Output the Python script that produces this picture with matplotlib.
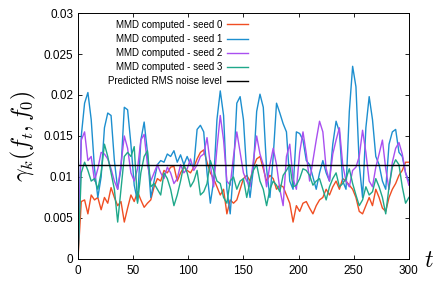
import numpy as np
import matplotlib
matplotlib.use('Agg')
import matplotlib.pyplot as plt

t = np.arange(0, 301, 3)

seed0 = [0.0, 0.007, 0.0072, 0.0055, 0.0078, 0.0072, 0.0075, 0.006, 0.0075, 0.0068,
         0.0087, 0.0075, 0.0065, 0.007, 0.0045, 0.0062, 0.0078, 0.007, 0.0082, 0.0072,
         0.0063, 0.0068, 0.0072, 0.0088, 0.0098, 0.0095, 0.0108, 0.0105, 0.0112, 0.0113,
         0.0095, 0.0105, 0.0112, 0.0108, 0.0105, 0.0112, 0.0122, 0.013, 0.0133, 0.0118,
         0.0105, 0.0098, 0.0088, 0.0078, 0.0085, 0.0055, 0.0072, 0.0068, 0.0072, 0.0085,
         0.0098, 0.0102, 0.0095, 0.0112, 0.0122, 0.0125, 0.011, 0.0095, 0.0102, 0.0098,
         0.0085, 0.009, 0.0088, 0.0078, 0.0068, 0.0045, 0.0065, 0.0058, 0.0068, 0.007,
         0.0062, 0.0055, 0.0065, 0.0072, 0.0075, 0.0085, 0.0078, 0.0088, 0.0095, 0.0085,
         0.0098, 0.0095, 0.009, 0.0085, 0.0075, 0.0058, 0.0055, 0.0065, 0.0075, 0.0065,
         0.0085, 0.0075, 0.0062, 0.0058, 0.0075, 0.0085, 0.0092, 0.0102, 0.0108, 0.0118,
         0.0118]

seed1 = [0.0, 0.015, 0.019, 0.0203, 0.017, 0.011, 0.0075, 0.01, 0.016, 0.0178,
         0.0175, 0.012, 0.0085, 0.011, 0.0185, 0.0182, 0.014, 0.009, 0.007, 0.0145,
         0.0167, 0.013, 0.0075, 0.0095, 0.0115, 0.012, 0.0118, 0.0128, 0.0125, 0.0132,
         0.0118, 0.0127, 0.0115, 0.0125, 0.0115, 0.0113, 0.0158, 0.0163, 0.0155, 0.0105,
         0.0068, 0.0095, 0.017, 0.0205, 0.0175, 0.0085, 0.0055, 0.011, 0.019, 0.0198,
         0.017, 0.0105, 0.0075, 0.011, 0.018, 0.0201, 0.0185, 0.011, 0.0075, 0.0125,
         0.019, 0.0178, 0.0165, 0.0155, 0.0095, 0.0085, 0.0155, 0.0153, 0.0145, 0.012,
         0.0115, 0.01, 0.0085, 0.0105, 0.012, 0.0105, 0.0095, 0.014, 0.0168, 0.0155,
         0.0095, 0.0085, 0.018, 0.0235, 0.021, 0.0115, 0.0075, 0.016, 0.0198, 0.017,
         0.0125, 0.0115, 0.0095, 0.0085, 0.014, 0.0155, 0.0158, 0.013, 0.0125, 0.0105,
         0.0095]

seed2 = [0.0, 0.0145, 0.0155, 0.012, 0.0125, 0.0095, 0.011, 0.013, 0.0128, 0.0122,
         0.011, 0.0095, 0.0085, 0.0115, 0.015, 0.0135, 0.0105, 0.0095, 0.011, 0.0145,
         0.0152, 0.0115, 0.0095, 0.0105, 0.0115, 0.0105, 0.0098, 0.0112, 0.0105, 0.0092,
         0.0098, 0.0115, 0.0105, 0.011, 0.0122, 0.0108, 0.0115, 0.0125, 0.0128, 0.0148,
         0.0115, 0.0088, 0.0135, 0.0175, 0.0145, 0.0095, 0.009, 0.0125, 0.0155, 0.013,
         0.0105, 0.0095, 0.0088, 0.012, 0.015, 0.0128, 0.0115, 0.0088, 0.0115, 0.0135,
         0.0115, 0.0085, 0.0065, 0.0125, 0.014, 0.0098, 0.0085, 0.013, 0.0155, 0.0128,
         0.0095, 0.012, 0.0145, 0.0168, 0.0155, 0.011, 0.0095, 0.0128, 0.0145, 0.016,
         0.0115, 0.0095, 0.0088, 0.0108, 0.0112, 0.0125, 0.0157, 0.013, 0.0095, 0.0088,
         0.0112, 0.0128, 0.0145, 0.011, 0.0085, 0.0118, 0.0135, 0.0142, 0.0128, 0.0105,
         0.009]

seed3 = [0.0, 0.0105, 0.0118, 0.0108, 0.0095, 0.0098, 0.0085, 0.0105, 0.014, 0.0125,
         0.0105, 0.0085, 0.0045, 0.0085, 0.0125, 0.013, 0.0125, 0.0137, 0.0068, 0.0105,
         0.0125, 0.0132, 0.0088, 0.0092, 0.0085, 0.0078, 0.0105, 0.0098, 0.0085, 0.0065,
         0.0078, 0.0095, 0.0115, 0.0105, 0.0088, 0.0095, 0.0108, 0.0078, 0.0082, 0.0092,
         0.012, 0.0108, 0.0095, 0.0092, 0.0075, 0.0068, 0.0095, 0.01, 0.0085, 0.0095,
         0.0098, 0.0075, 0.0095, 0.0108, 0.0115, 0.0095, 0.0085, 0.0065, 0.0085, 0.0095,
         0.009, 0.0082, 0.0102, 0.0108, 0.0115, 0.0088, 0.009, 0.0098, 0.011, 0.0108,
         0.0102, 0.009, 0.0095, 0.0098, 0.0085, 0.0072, 0.0088, 0.0098, 0.0105, 0.0088,
         0.0092, 0.0098, 0.011, 0.0092, 0.0078, 0.0065, 0.0072, 0.0088, 0.0078, 0.0082,
         0.0098, 0.0088, 0.0075, 0.0055, 0.0088, 0.0112, 0.0121, 0.0115, 0.0088, 0.0068,
         0.0075]

rms_level = 0.0114

labels = ['MMD computed - seed 0', 'MMD computed - seed 1', 'MMD computed - seed 2',
          'MMD computed - seed 3', 'Predicted RMS noise level']
colors = ['#f04e23', '#1d8fcf', '#a94ff0', '#1fa88a', '#000000']

plt.rcParams['font.family'] = ['Liberation Sans', 'DejaVu Sans']
plt.rcParams['mathtext.fontset'] = 'cm'

fig = plt.figure(figsize=(4.43, 2.83), dpi=100)
ax = fig.add_axes([0.176, 0.085, 0.747, 0.869])

for vals, c, lab in zip([seed0, seed1, seed2, seed3], colors[:4], labels[:4]):
    ax.plot(t, vals, color=c, lw=1.0, label=lab)
ax.axhline(rms_level, color=colors[4], lw=1.0, label=labels[4])

ax.set_xlim(0, 300)
ax.set_ylim(0, 0.03)
ax.set_xticks(np.arange(0, 301, 50))
ax.set_yticks(np.arange(0, 0.0301, 0.005))
ax.set_yticklabels(['0', '0.005', '0.01', '0.015', '0.02', '0.025', '0.03'])
ax.tick_params(direction='in', top=True, right=True, length=3, width=0.6, labelsize=8.5)
ax.tick_params(axis='x', pad=4)
for s in ax.spines.values():
    s.set_linewidth(0.7)

ax.set_ylabel(r'$\gamma_k(f_t, f_0)$', fontsize=17, labelpad=4)
ax.text(1.045, -0.01, r'$t$', transform=ax.transAxes, fontsize=17, va='center', ha='left')

leg = ax.legend(loc='upper right', bbox_to_anchor=(0.535, 1.0), frameon=False,
                markerfirst=False, fontsize=7, handlelength=2.2, handletextpad=0.5,
                labelspacing=0.42, borderaxespad=0.3)

fig.savefig('out.png', dpi=100)
